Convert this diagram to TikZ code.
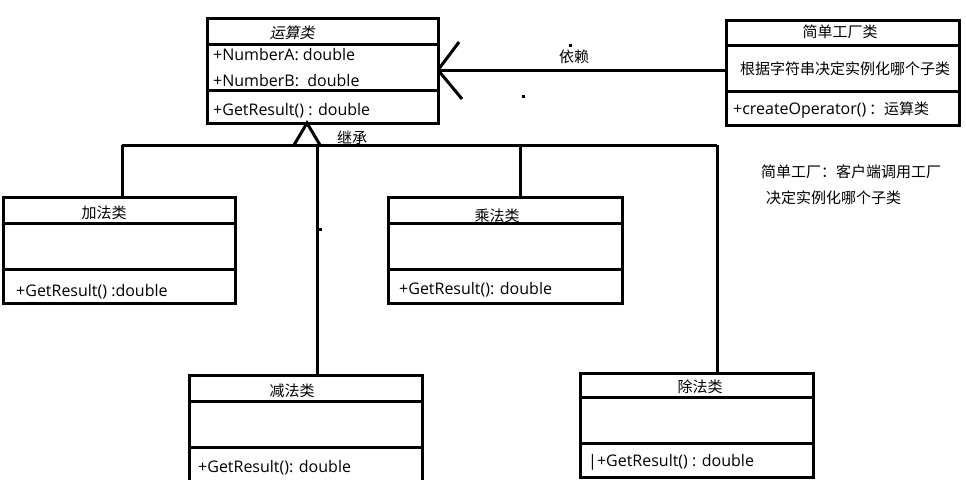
\documentclass[tikz,border=0pt]{standalone}
\usepackage{fontspec}
\setmainfont{Open Sans}
\newfontfamily\cjk{Noto Sans CJK SC}
\newfontfamily\cjkslant[FakeSlant=0.2]{Noto Sans CJK SC}

\newcommand\umllatinstyle{\fontsize{16}{18}\selectfont}
\newcommand\umlcjkstyle{\cjk\fontsize{15}{17}\selectfont}
\newcommand\umlwidth{3pt}
\tikzset{
  classbox/.style={draw, line width=\umlwidth, anchor=north west, outer sep=0pt, inner sep=0pt},
  umlline/.style={line width=\umlwidth},
  umltitle/.style={inner sep=0pt, font=\umlcjkstyle},
  umlmember/.style={inner sep=0pt, anchor=west, font=\umllatinstyle},
}
% name, left, top, width, height, first rule, second rule
\newcommand\umlclass[7]{
  \node[classbox, minimum width=#4pt, minimum height=#5pt] (#1) at (#2, #3) {};
  \draw[umlline] ([yshift=-#6pt]#1.north west) -- ([yshift=-#6pt]#1.north east);
  \draw[umlline] ([yshift=-#7pt]#1.north west) -- ([yshift=-#7pt]#1.north east);
}

\begin{document}
\begin{tikzpicture}[x=1pt, y=-1pt]
  \useasboundingbox (0, 0) rectangle (966, 479);
  \clip (0, 0) rectangle (966, 479);

  \umlclass{op}{207}{18}{231}{105}{26}{72}
  \node[umltitle, font=\cjkslant\fontsize{15}{17}\selectfont] (optitle) at (292, 33) {运算类};
  \node[umlmember] (opa) at (213, 55) {+NumberA: double};
  \node[umlmember] (opb) at (213, 81) {+NumberB:\ \ double};
  \node[umlmember] (opm) at (213, 111) {+GetResult() : double};

  \umlclass{fac}{726}{20}{233}{105}{25}{71}
  \node[umltitle] (factitle) at (840, 32) {简单工厂类};
  \node[umltitle, anchor=west] (facnote) at (740, 69) {根据字符串决定实例化哪个子类};
  \node[umlmember] (facm) at (733, 110) {+createOperator()\,{\umlcjkstyle ：运算类}};

  \umlclass{add}{3}{197}{232}{106}{26}{72}
  \node[umltitle] (addtitle) at (104, 213) {加法类};
  \node[umlmember] (addm) at (16, 292) {+GetResult() :double};

  \umlclass{mul}{388}{197}{234}{106}{26}{72}
  \node[umltitle] (multitle) at (497, 216) {乘法类};
  \node[umlmember] (mulm) at (399, 290) {+GetResult(): double};

  \umlclass{sub}{189}{375}{233}{120}{26}{72}
  \node[umltitle] (subtitle) at (292, 391) {减法类};
  \node[umlmember] (subm) at (198, 468) {+GetResult(): double};

  \umlclass{div}{580}{373}{233}{104}{24}{70}
  \node[umltitle] (divtitle) at (700, 387) {除法类};
  \node[umlmember] (divm) at (588, 462) {|+GetResult() : double};

  % dependency
  \coordinate (deptip) at (op.east |- 0, 70);
  \draw[umlline] (fac.west |- 0, 70) -- (deptip);
  \draw[umlline] (deptip) -- ++(21, -28);
  \draw[umlline] (deptip) -- ++(24, 29);
  \node[umltitle] (deplabel) at (574, 57) {依赖};
  \fill (569, 44) rectangle ++(3, 3);
  \fill (522, 95) rectangle ++(3, 3);

  % inheritance
  \coordinate (inhtip) at (307, 123);
  \draw[umlline] (294, 145) -- (inhtip) -- (320, 145);
  \coordinate (busa) at (122, 145);
  \coordinate (busb) at (317, 145);
  \coordinate (busc) at (520, 145);
  \coordinate (busd) at (717, 145);
  \draw[umlline] (busa) -- (busd);
  \draw[umlline] (busa) -- (busa |- add.north);
  \draw[umlline] (busb) -- (busb |- sub.north);
  \draw[umlline] (busc) -- (busc |- mul.north);
  \draw[umlline] (busd) -- (busd |- div.north);
  \node[umltitle] (inhlabel) at (352, 138) {继承};
  \fill (319, 228) rectangle ++(3, 3);

  \node[umltitle, anchor=west] (notea) at (761, 172) {简单工厂：客户端调用工厂};
  \node[umltitle, anchor=west] (noteb) at (766, 198) {决定实例化哪个子类};
\end{tikzpicture}
\end{document}
